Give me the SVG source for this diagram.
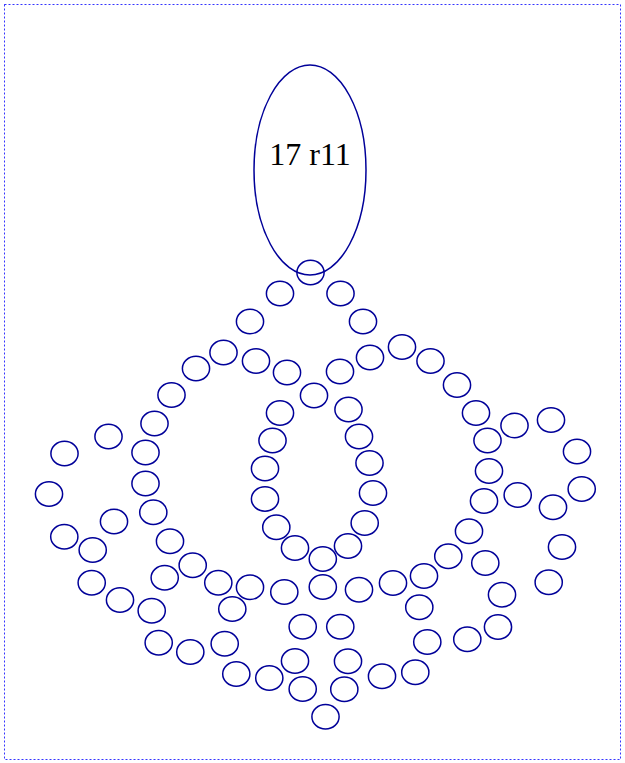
<svg xmlns="http://www.w3.org/2000/svg" width="625" height="763" viewBox="0 0 625 763">
<style>
.n{fill:none;stroke:#000099;stroke-width:1.5}
.t{font-family:"Liberation Serif","Times New Roman",serif;font-size:32px;fill:#000;text-anchor:middle}
</style>
<rect width="625" height="763" fill="#fff"/>
<rect x="4.5" y="4.5" width="616" height="755" fill="none" stroke="#0000ff" stroke-width="0.8" stroke-dasharray="2,2"/>
<g id="root"><ellipse class="n" cx="310" cy="170" rx="56" ry="105"/><text class="t" x="310" y="165">17 r11</text></g>
<g id="nodes">
<g id="n1"><ellipse class="n" cx="310.5" cy="272.5" rx="13.6" ry="12.2"/></g>
<g id="n2"><ellipse class="n" cx="280" cy="293.5" rx="13.6" ry="12.2"/></g>
<g id="n3"><ellipse class="n" cx="340.5" cy="293.5" rx="13.6" ry="12.2"/></g>
<g id="n4"><ellipse class="n" cx="250" cy="321.5" rx="13.6" ry="12.2"/></g>
<g id="n5"><ellipse class="n" cx="363" cy="321.5" rx="13.6" ry="12.2"/></g>
<g id="n6"><ellipse class="n" cx="223.5" cy="352.5" rx="13.6" ry="12.2"/></g>
<g id="n7"><ellipse class="n" cx="256" cy="361" rx="13.6" ry="12.2"/></g>
<g id="n8"><ellipse class="n" cx="287" cy="372.5" rx="13.6" ry="12.2"/></g>
<g id="n9"><ellipse class="n" cx="340" cy="371.5" rx="13.6" ry="12.2"/></g>
<g id="n10"><ellipse class="n" cx="370" cy="357.5" rx="13.6" ry="12.2"/></g>
<g id="n11"><ellipse class="n" cx="402" cy="347" rx="13.6" ry="12.2"/></g>
<g id="n12"><ellipse class="n" cx="430.5" cy="361" rx="13.6" ry="12.2"/></g>
<g id="n13"><ellipse class="n" cx="196" cy="368.5" rx="13.6" ry="12.2"/></g>
<g id="n14"><ellipse class="n" cx="171.5" cy="395" rx="13.6" ry="12.2"/></g>
<g id="n15"><ellipse class="n" cx="314" cy="395.5" rx="13.6" ry="12.2"/></g>
<g id="n16"><ellipse class="n" cx="457" cy="385" rx="13.6" ry="12.2"/></g>
<g id="n17"><ellipse class="n" cx="280" cy="413" rx="13.6" ry="12.2"/></g>
<g id="n18"><ellipse class="n" cx="348.5" cy="409.5" rx="13.6" ry="12.2"/></g>
<g id="n19"><ellipse class="n" cx="476" cy="413" rx="13.6" ry="12.2"/></g>
<g id="n20"><ellipse class="n" cx="154.5" cy="423.5" rx="13.6" ry="12.2"/></g>
<g id="n21"><ellipse class="n" cx="108.5" cy="436.5" rx="13.6" ry="12.2"/></g>
<g id="n22"><ellipse class="n" cx="64.5" cy="453.5" rx="13.6" ry="12.2"/></g>
<g id="n23"><ellipse class="n" cx="272.5" cy="440.5" rx="13.6" ry="12.2"/></g>
<g id="n24"><ellipse class="n" cx="359" cy="436.5" rx="13.6" ry="12.2"/></g>
<g id="n25"><ellipse class="n" cx="487.5" cy="440.5" rx="13.6" ry="12.2"/></g>
<g id="n26"><ellipse class="n" cx="514.5" cy="425.5" rx="13.6" ry="12.2"/></g>
<g id="n27"><ellipse class="n" cx="551" cy="420" rx="13.6" ry="12.2"/></g>
<g id="n28"><ellipse class="n" cx="145.5" cy="452.5" rx="13.6" ry="12.2"/></g>
<g id="n29"><ellipse class="n" cx="369.5" cy="463" rx="13.6" ry="12.2"/></g>
<g id="n30"><ellipse class="n" cx="577" cy="451.5" rx="13.6" ry="12.2"/></g>
<g id="n31"><ellipse class="n" cx="265" cy="468.5" rx="13.6" ry="12.2"/></g>
<g id="n32"><ellipse class="n" cx="489" cy="471" rx="13.6" ry="12.2"/></g>
<g id="n33"><ellipse class="n" cx="145.5" cy="483.5" rx="13.6" ry="12.2"/></g>
<g id="n34"><ellipse class="n" cx="49" cy="494" rx="13.6" ry="12.2"/></g>
<g id="n35"><ellipse class="n" cx="265" cy="499" rx="13.6" ry="12.2"/></g>
<g id="n36"><ellipse class="n" cx="373" cy="493" rx="13.6" ry="12.2"/></g>
<g id="n37"><ellipse class="n" cx="484" cy="501" rx="13.6" ry="12.2"/></g>
<g id="n38"><ellipse class="n" cx="517.7" cy="495" rx="13.6" ry="12.2"/></g>
<g id="n39"><ellipse class="n" cx="553" cy="507.3" rx="13.6" ry="12.2"/></g>
<g id="n40"><ellipse class="n" cx="581.7" cy="489" rx="13.6" ry="12.2"/></g>
<g id="n41"><ellipse class="n" cx="153.3" cy="512.3" rx="13.6" ry="12.2"/></g>
<g id="n42"><ellipse class="n" cx="114" cy="521.5" rx="13.6" ry="12.2"/></g>
<g id="n43"><ellipse class="n" cx="276.3" cy="527.3" rx="13.6" ry="12.2"/></g>
<g id="n44"><ellipse class="n" cx="364.7" cy="523" rx="13.6" ry="12.2"/></g>
<g id="n45"><ellipse class="n" cx="469" cy="531.3" rx="13.6" ry="12.2"/></g>
<g id="n46"><ellipse class="n" cx="64.3" cy="536.7" rx="13.6" ry="12.2"/></g>
<g id="n47"><ellipse class="n" cx="92.7" cy="550" rx="13.6" ry="12.2"/></g>
<g id="n48"><ellipse class="n" cx="170" cy="541.3" rx="13.6" ry="12.2"/></g>
<g id="n49"><ellipse class="n" cx="295" cy="548" rx="13.6" ry="12.2"/></g>
<g id="n50"><ellipse class="n" cx="348" cy="546" rx="13.6" ry="12.2"/></g>
<g id="n51"><ellipse class="n" cx="322.8" cy="559" rx="13.6" ry="12.2"/></g>
<g id="n52"><ellipse class="n" cx="448.3" cy="556.3" rx="13.6" ry="12.2"/></g>
<g id="n53"><ellipse class="n" cx="485.3" cy="563" rx="13.6" ry="12.2"/></g>
<g id="n54"><ellipse class="n" cx="562" cy="547" rx="13.6" ry="12.2"/></g>
<g id="n55"><ellipse class="n" cx="192.7" cy="565.3" rx="13.6" ry="12.2"/></g>
<g id="n56"><ellipse class="n" cx="164.7" cy="577.7" rx="13.6" ry="12.2"/></g>
<g id="n57"><ellipse class="n" cx="91.7" cy="582.7" rx="13.6" ry="12.2"/></g>
<g id="n58"><ellipse class="n" cx="218.3" cy="582.7" rx="13.6" ry="12.2"/></g>
<g id="n59"><ellipse class="n" cx="250" cy="587.3" rx="13.6" ry="12.2"/></g>
<g id="n60"><ellipse class="n" cx="284.3" cy="592" rx="13.6" ry="12.2"/></g>
<g id="n61"><ellipse class="n" cx="322.8" cy="587" rx="13.6" ry="12.2"/></g>
<g id="n62"><ellipse class="n" cx="359" cy="589.7" rx="13.6" ry="12.2"/></g>
<g id="n63"><ellipse class="n" cx="393" cy="583" rx="13.6" ry="12.2"/></g>
<g id="n64"><ellipse class="n" cx="424" cy="576" rx="13.6" ry="12.2"/></g>
<g id="n65"><ellipse class="n" cx="548.7" cy="582.3" rx="13.6" ry="12.2"/></g>
<g id="n66"><ellipse class="n" cx="120" cy="600" rx="13.6" ry="12.2"/></g>
<g id="n67"><ellipse class="n" cx="151.7" cy="610.7" rx="13.6" ry="12.2"/></g>
<g id="n68"><ellipse class="n" cx="232.3" cy="609" rx="13.6" ry="12.2"/></g>
<g id="n69"><ellipse class="n" cx="419.3" cy="607.3" rx="13.6" ry="12.2"/></g>
<g id="n70"><ellipse class="n" cx="502" cy="594.7" rx="13.6" ry="12.2"/></g>
<g id="n71"><ellipse class="n" cx="302.7" cy="626.7" rx="13.6" ry="12.2"/></g>
<g id="n72"><ellipse class="n" cx="340.3" cy="626.7" rx="13.6" ry="12.2"/></g>
<g id="n73"><ellipse class="n" cx="498" cy="627" rx="13.6" ry="12.2"/></g>
<g id="n74"><ellipse class="n" cx="158.7" cy="642.7" rx="13.6" ry="12.2"/></g>
<g id="n75"><ellipse class="n" cx="190.3" cy="652" rx="13.6" ry="12.2"/></g>
<g id="n76"><ellipse class="n" cx="224.7" cy="643.7" rx="13.6" ry="12.2"/></g>
<g id="n77"><ellipse class="n" cx="427.3" cy="642" rx="13.6" ry="12.2"/></g>
<g id="n78"><ellipse class="n" cx="467.3" cy="639.3" rx="13.6" ry="12.2"/></g>
<g id="n79"><ellipse class="n" cx="295" cy="661" rx="13.6" ry="12.2"/></g>
<g id="n80"><ellipse class="n" cx="348" cy="661.3" rx="13.6" ry="12.2"/></g>
<g id="n81"><ellipse class="n" cx="236.3" cy="674" rx="13.6" ry="12.2"/></g>
<g id="n82"><ellipse class="n" cx="269.3" cy="678" rx="13.6" ry="12.2"/></g>
<g id="n83"><ellipse class="n" cx="302.7" cy="689" rx="13.6" ry="12.2"/></g>
<g id="n84"><ellipse class="n" cx="344.3" cy="689.3" rx="13.6" ry="12.2"/></g>
<g id="n85"><ellipse class="n" cx="382" cy="676.3" rx="13.6" ry="12.2"/></g>
<g id="n86"><ellipse class="n" cx="415.3" cy="672.3" rx="13.6" ry="12.2"/></g>
<g id="n87"><ellipse class="n" cx="325.5" cy="716.8" rx="13.6" ry="12.2"/></g>
</g>
<g id="connectors"/>
</svg>
